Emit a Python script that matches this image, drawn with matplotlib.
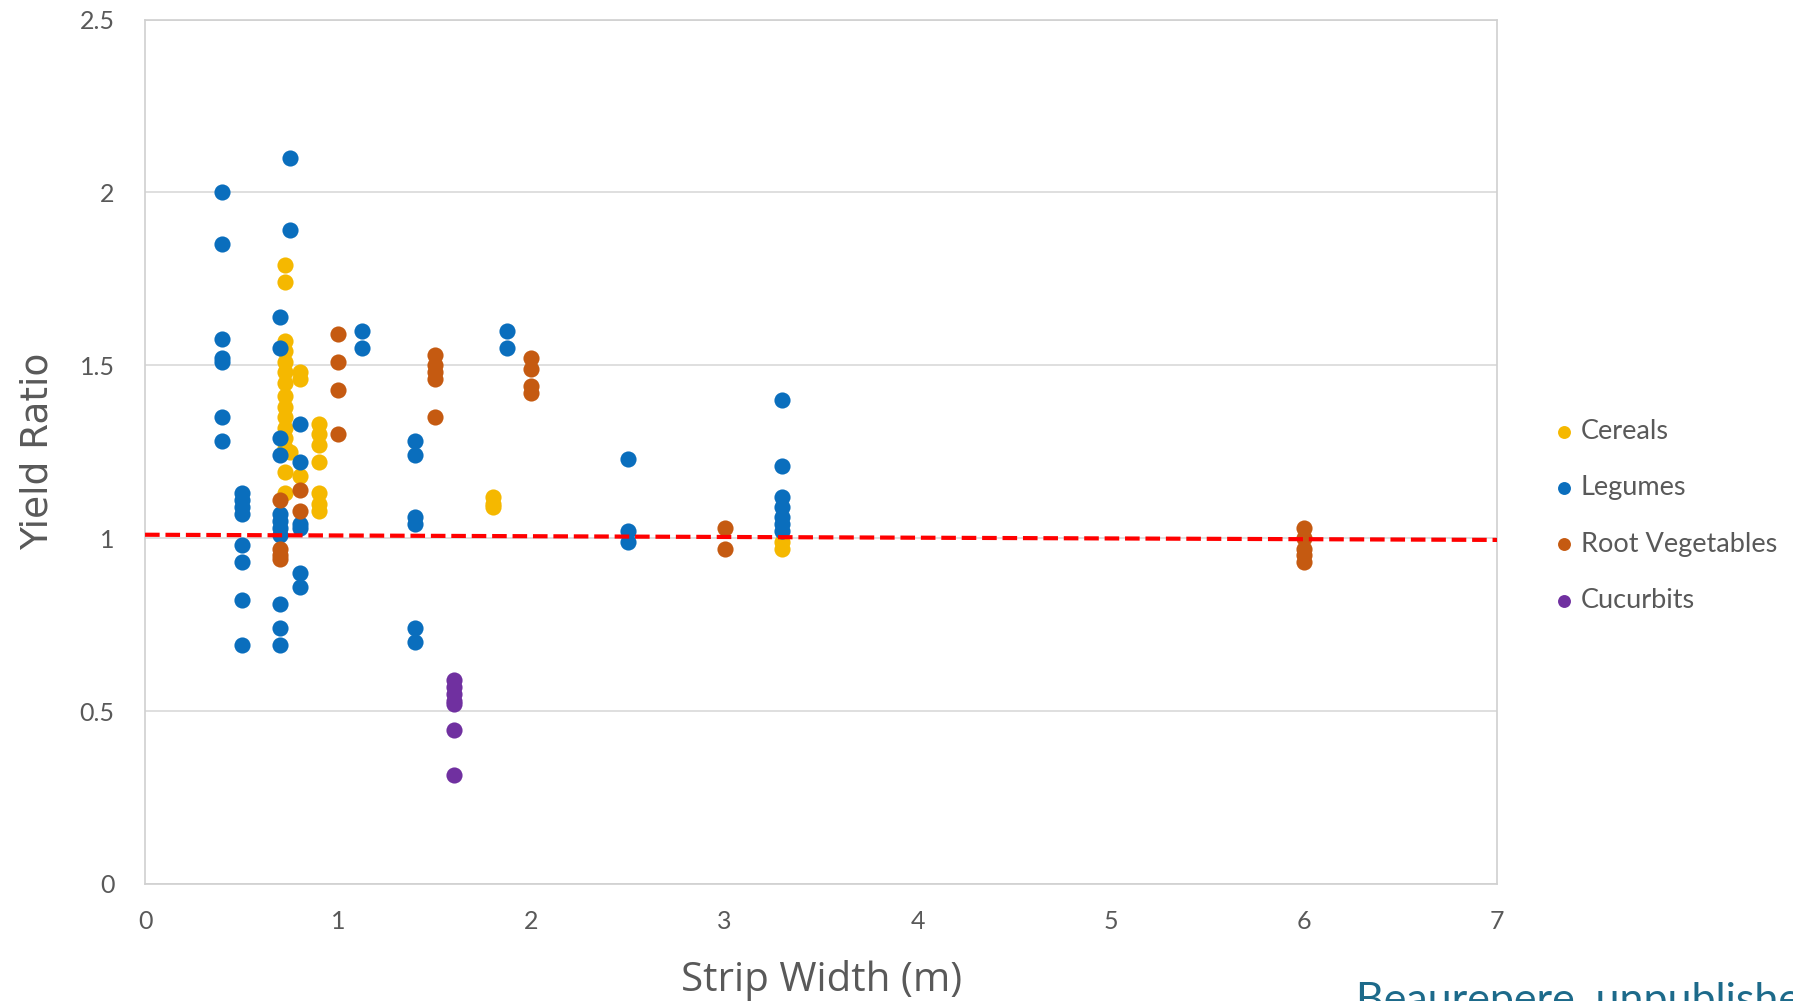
import matplotlib
matplotlib.use("Agg")
import matplotlib.pyplot as plt

# strip width (m) vs yield ratio, per crop group
cereal_x = [0.725, 0.725, 0.725, 0.725, 0.725, 0.725, 0.725, 0.725, 0.725, 0.725, 0.725, 0.725, 0.725, 0.725, 0.725,
            0.75, 0.8, 0.8, 0.8, 0.9, 0.9, 0.9, 0.9, 0.9, 0.9, 0.9, 1.8, 1.8, 1.8, 3.3, 3.3]
cereal_y = [1.79, 1.74, 1.57, 1.54, 1.51, 1.48, 1.45, 1.41, 1.38, 1.35, 1.32, 1.29, 1.26, 1.19, 1.13,
            1.25, 1.48, 1.46, 1.18, 1.33, 1.30, 1.27, 1.22, 1.13, 1.10, 1.08, 1.12, 1.10, 1.09, 0.99, 0.97]

legume_x = [0.4, 0.4, 0.4, 0.4, 0.4, 0.4, 0.4,
            0.5, 0.5, 0.5, 0.5, 0.5, 0.5, 0.5, 0.5,
            0.7, 0.7, 0.7, 0.7, 0.7, 0.7, 0.7, 0.7, 0.7, 0.7, 0.7,
            0.75, 0.75,
            0.8, 0.8, 0.8, 0.8, 0.8, 0.8,
            1.125, 1.125,
            1.4, 1.4, 1.4, 1.4, 1.4, 1.4,
            1.875, 1.875,
            2.5, 2.5, 2.5,
            3.3, 3.3, 3.3, 3.3, 3.3, 3.3, 3.3]
legume_y = [2.00, 1.85, 1.575, 1.52, 1.51, 1.35, 1.28,
            1.13, 1.11, 1.09, 1.07, 0.98, 0.93, 0.82, 0.69,
            1.64, 1.55, 1.29, 1.24, 1.07, 1.05, 1.03, 1.01, 0.81, 0.74, 0.69,
            2.10, 1.89,
            1.33, 1.22, 1.04, 1.03, 0.90, 0.86,
            1.60, 1.55,
            1.28, 1.24, 1.06, 1.04, 0.74, 0.70,
            1.60, 1.55,
            1.23, 1.02, 0.99,
            1.40, 1.21, 1.12, 1.09, 1.06, 1.04, 1.02]

root_x = [0.7, 0.7, 0.7, 0.7, 0.8, 0.8, 1.0, 1.0, 1.0, 1.0,
          1.5, 1.5, 1.5, 1.5, 1.5, 2.0, 2.0, 2.0, 2.0, 3.0, 3.0,
          6.0, 6.0, 6.0, 6.0, 6.0]
root_y = [1.11, 0.97, 0.95, 0.94, 1.14, 1.08, 1.59, 1.51, 1.43, 1.30,
          1.53, 1.50, 1.48, 1.46, 1.35, 1.52, 1.49, 1.44, 1.42, 1.03, 0.97,
          1.03, 1.00, 0.97, 0.95, 0.93]

cucurbit_x = [1.6, 1.6, 1.6, 1.6, 1.6, 1.6, 1.6]
cucurbit_y = [0.59, 0.57, 0.55, 0.53, 0.52, 0.445, 0.315]

ref_x = [0, 7]
ref_y = [1.01, 0.995]

x_ticks = [0, 1, 2, 3, 4, 5, 6, 7]
y_ticks = [0, 0.5, 1, 1.5, 2, 2.5]
y_tick_labels = ["0", "0.5", "1", "1.5", "2", "2.5"]

groups = [("Cereals", cereal_x, cereal_y, "#F5B800"),
          ("Legumes", legume_x, legume_y, "#0A6EBD"),
          ("Root Vegetables", root_x, root_y, "#C55A11"),
          ("Cucurbits", cucurbit_x, cucurbit_y, "#7030A0")]

plt.rcParams["font.family"] = ["Lato", "DejaVu Sans"]
txt = "#595959"

fig = plt.figure(figsize=(17.93, 10.01), dpi=100)
ax = fig.add_axes([0.0809, 0.1169, 0.835 - 0.0809, 0.9805 - 0.1169])

for name, xs, ys, c in groups:
    ax.scatter(xs, ys, s=135, color=c, label=name, linewidths=0, zorder=3)

ax.plot(ref_x, ref_y, color="#FF0000", lw=3, dashes=(3.5, 1.4), zorder=4)

ax.set_xlim(0, 7)
ax.set_ylim(0, 2.5)
ax.set_xticks(x_ticks)
ax.set_yticks(y_ticks)
ax.set_yticklabels(y_tick_labels)
ax.tick_params(length=0, labelsize=18, labelcolor=txt)
ax.tick_params(axis="x", pad=19)
ax.tick_params(axis="y", pad=22)
ax.grid(axis="y", color="#d9d9d9", lw=1.2, zorder=0)
for sp in ax.spines.values():
    sp.set_color("#d0d0d0")
    sp.set_linewidth(1.2)

ax.set_xlabel("Strip Width (m)", fontsize=29, color=txt, family=["Open Sans", "DejaVu Sans"])
ax.xaxis.set_label_coords(0.5, -0.088)
ax.set_ylabel("Yield Ratio", fontsize=27, color=txt, family=["Liberation Sans Narrow", "DejaVu Sans"])
ax.yaxis.set_label_coords(-0.066, 0.5)

ax.legend(loc="center left", bbox_to_anchor=(0.868, 0.4845), bbox_transform=fig.transFigure,
          frameon=False, fontsize=19.5, labelcolor=txt, handlelength=0.6, handletextpad=0.3,
          borderpad=0, borderaxespad=0, labelspacing=1.15, markerscale=0.8)

fig.text(0.756, -0.012, "Beaurepere, unpublished", fontsize=31, color="#1d6a8a",
         va="baseline", ha="left")

fig.savefig("out.png", dpi=100)
